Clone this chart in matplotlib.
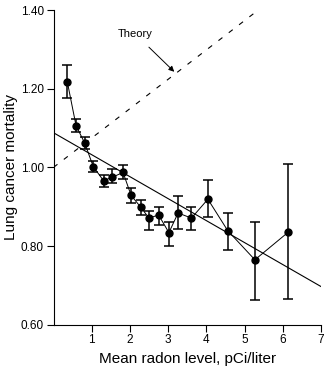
import matplotlib
matplotlib.use("Agg")
import matplotlib.pyplot as plt
import numpy as np

# data
radon = [0.36, 0.59, 0.82, 1.04, 1.31, 1.54, 1.82, 2.03, 2.28, 2.50, 2.75,
         3.02, 3.26, 3.61, 4.04, 4.56, 5.27, 6.14]
mortality = [1.218, 1.106, 1.061, 1.002, 0.966, 0.975, 0.987, 0.929, 0.899, 0.871, 0.879,
             0.834, 0.884, 0.871, 0.919, 0.839, 0.765, 0.835]
err_upper = [1.260, 1.123, 1.077, 1.015, 0.981, 0.995, 1.006, 0.947, 0.918, 0.890, 0.899,
             0.862, 0.928, 0.900, 0.967, 0.885, 0.860, 1.009]
err_lower = [1.176, 1.091, 1.046, 0.988, 0.950, 0.961, 0.970, 0.909, 0.880, 0.842, 0.854,
             0.801, 0.843, 0.841, 0.873, 0.790, 0.662, 0.665]
fit_x = [0.0, 7.0]
fit_y = [1.088, 0.697]
theory_x = [0.0, 5.36]
theory_y = [1.0, 1.40]
x_ticks = [1, 2, 3, 4, 5, 6, 7]
y_ticks = [0.60, 0.80, 1.00, 1.20, 1.40]
y_ticklabels = ["0.60", "0.80", "1.00", "1.20", "1.40"]

plt.rcParams['font.family'] = ['Liberation Sans', 'DejaVu Sans']

fig = plt.figure(figsize=(3.28, 3.68), dpi=100)
ax = fig.add_axes([53.5/328, 43.3/368, 267.5/328, 314.7/368])

m = np.array(mortality)
yerr = [m - np.array(err_lower), np.array(err_upper) - m]
ax.errorbar(radon, mortality, yerr=yerr, fmt='o-', color='black', ms=5,
            lw=0.7, elinewidth=1.1, capsize=3.5, capthick=1.1, zorder=3)
ax.plot(fit_x, fit_y, color='black', lw=0.8, zorder=2)
ax.plot(theory_x, theory_y, color='black', lw=0.8, ls=(0, (4.5, 7.2)), zorder=2)

ax.annotate("Theory", xy=(3.16, 1.243), xytext=(2.13, 1.34), fontsize=8,
            ha='center', va='center',
            arrowprops=dict(arrowstyle='-|>', color='black', lw=0.7,
                            mutation_scale=8, shrinkA=6, shrinkB=0))

ax.set_xlim(0, 7)
ax.set_ylim(0.6, 1.4)
ax.set_xticks(x_ticks)
ax.set_yticks(y_ticks)
ax.set_yticklabels(y_ticklabels)
ax.spines['top'].set_visible(False)
ax.spines['right'].set_visible(False)
ax.tick_params(direction='out', length=5, width=0.8, labelsize=8.5, pad=2)
ax.set_xlabel("Mean radon level, pCi/liter", fontsize=11, labelpad=4)
ax.set_ylabel("Lung cancer mortality", fontsize=11, labelpad=2)

fig.savefig("out.png", dpi=100)
